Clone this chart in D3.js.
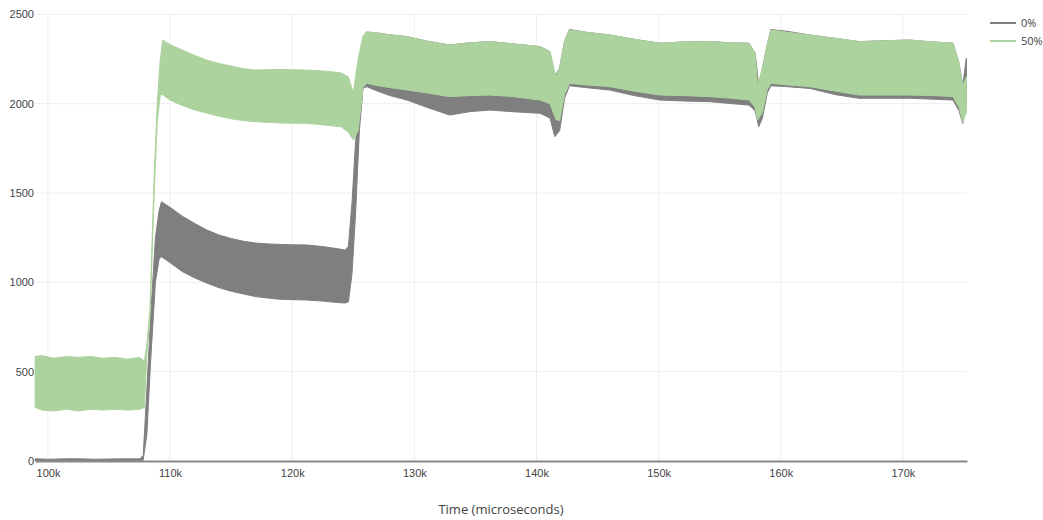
<!DOCTYPE html>
<html>
<head>
<meta charset="utf-8">
<script src="https://cdn.jsdelivr.net/npm/d3@7"></script>
<style>
  body { margin: 0; background: #fff; }
  svg { font-family: "Open Sans", sans-serif; }
  .tick text { fill: #444; font-size: 11px; }
</style>
</head>
<body>
<div id="chart"></div>
<script>
// time in thousands of microseconds, band = min/max of the oscillation
const seriesNames = ["0%", "50%"];
const seriesColors = ["#7f7f7f", "#acd39e"];
const xTicks = [100, 110, 120, 130, 140, 150, 160, 170];
const yTicks = [0, 500, 1000, 1500, 2000, 2500];

const grayTime = [98.95, 100, 102, 104, 106, 107.5, 107.8, 108.1, 108.4, 108.8, 109.1, 109.3, 110, 111, 112, 113, 114, 115, 116, 117, 118, 119, 120, 121.2, 122.5, 123.5, 124.3, 124.6, 124.9, 125.2, 125.5, 125.8, 126.1, 127, 128, 129.4, 131, 132.9, 134.5, 136.2, 138, 140.3, 141.1, 141.5, 141.9, 142.3, 142.7, 144, 146, 148, 150.1, 152, 154.2, 156, 157.4, 157.9, 158.2, 158.5, 158.9, 159.2, 160.5, 162.4, 164.5, 166.4, 168.5, 170.5, 172.5, 174.1, 174.6, 174.9, 175.2];
const grayLow = [2, 2, 2, 2, 2, 2, 5, 150, 550, 1000, 1130, 1143, 1110, 1060, 1025, 996, 970, 950, 935, 920, 912, 905, 903, 901, 895, 888, 884, 890, 1050, 1400, 1850, 2086, 2095, 2070, 2045, 2020, 1980, 1936, 1955, 1964, 1955, 1946, 1920, 1815, 1850, 2030, 2100, 2090, 2076, 2045, 2020, 2015, 2011, 2000, 1992, 1960, 1871, 1920, 2060, 2100, 2095, 2085, 2050, 2030, 2030, 2030, 2025, 2020, 1960, 1890, 2000];
const grayHigh = [12, 10, 13, 10, 12, 12, 30, 400, 800, 1250, 1400, 1451, 1420, 1370, 1330, 1293, 1265, 1245, 1230, 1220, 1215, 1212, 1210, 1209, 1200, 1190, 1181, 1200, 1450, 1800, 2000, 2200, 2400, 2395, 2385, 2375, 2350, 2328, 2340, 2347, 2335, 2319, 2291, 2150, 2200, 2350, 2415, 2400, 2384, 2360, 2338, 2345, 2347, 2340, 2338, 2283, 2100, 2200, 2330, 2415, 2405, 2384, 2365, 2347, 2352, 2356, 2345, 2338, 2225, 2100, 2255];

const greenTime = [98.95, 99.5, 100.5, 101.5, 102.5, 103.5, 104.5, 105.5, 106.5, 107.5, 107.9, 108.1, 108.35, 108.7, 108.95, 109.2, 109.4, 110, 111, 112, 113, 114, 115, 116, 117, 118, 119, 120, 121, 122, 123, 124, 124.6, 125, 125.4, 125.8, 126.1, 127, 128, 129.4, 131, 132.9, 134.5, 136.2, 138, 140.3, 141.1, 141.6, 141.9, 142.3, 142.7, 144, 146, 148, 150.1, 152, 154.2, 156, 157.4, 157.9, 158.1, 158.5, 158.9, 159.2, 160.5, 162.4, 164.5, 166.4, 168.5, 170.5, 172.5, 174.1, 174.6, 174.9, 175.2];
const greenLow = [300, 285, 280, 290, 280, 290, 285, 290, 285, 290, 300, 600, 800, 1500, 1900, 2050, 2050, 2020, 1990, 1965, 1947, 1930, 1915, 1905, 1899, 1895, 1892, 1890, 1890, 1885, 1878, 1870, 1840, 1796, 1850, 2090, 2114, 2100, 2090, 2076, 2060, 2039, 2045, 2048, 2040, 2020, 2000, 1910, 1905, 2050, 2114, 2105, 2095, 2070, 2048, 2045, 2039, 2030, 2020, 1980, 1908, 1950, 2080, 2114, 2105, 2095, 2070, 2048, 2048, 2048, 2045, 2039, 1980, 1899, 1950];
const greenHigh = [585, 590, 575, 585, 580, 585, 575, 580, 570, 580, 560, 650, 850, 1600, 2000, 2250, 2356, 2330, 2300, 2270, 2244, 2225, 2210, 2195, 2188, 2190, 2192, 2190, 2188, 2185, 2180, 2172, 2150, 2060, 2250, 2380, 2403, 2395, 2385, 2375, 2350, 2328, 2340, 2347, 2335, 2319, 2291, 2150, 2200, 2350, 2412, 2400, 2384, 2360, 2338, 2345, 2347, 2340, 2338, 2283, 2100, 2200, 2330, 2412, 2400, 2384, 2365, 2347, 2352, 2356, 2345, 2338, 2225, 2100, 2150];

const width = 1043, height = 520;
const margin = {top: 14.3, right: 76, bottom: 59, left: 35};

const svg = d3.select("#chart").append("svg")
  .attr("width", width)
  .attr("height", height);

const x = d3.scaleLinear()
  .domain([98.94, 175.25])
  .range([margin.left, width - margin.right]);

const y = d3.scaleLinear()
  .domain([0, 2500])
  .range([height - margin.bottom, margin.top]);

// grid
svg.append("g")
  .selectAll("line")
  .data(xTicks)
  .enter().append("line")
  .attr("x1", d => x(d)).attr("x2", d => x(d))
  .attr("y1", y(0)).attr("y2", y(2500))
  .attr("stroke", "#eee");

svg.append("g")
  .selectAll("line")
  .data(yTicks.slice(1))
  .enter().append("line")
  .attr("x1", x.range()[0]).attr("x2", x.range()[1])
  .attr("y1", d => y(d)).attr("y2", d => y(d))
  .attr("stroke", "#eee");

const toRows = (time, low, high) => time.map((t, i) => ({t, low: low[i], high: high[i]}));
const series = [
  toRows(grayTime, grayLow, grayHigh),
  toRows(greenTime, greenLow, greenHigh)
];

const area = d3.area()
  .x(d => x(d.t))
  .y0(d => y(d.low))
  .y1(d => y(d.high));

svg.append("g")
  .selectAll("path")
  .data(series)
  .enter().append("path")
  .attr("d", area)
  .attr("fill", (d, i) => seriesColors[i])
  .attr("stroke", (d, i) => seriesColors[i])
  .attr("stroke-width", 1);

// axes
const xAxis = svg.append("g")
  .attr("transform", `translate(0, ${y(0)})`)
  .call(d3.axisBottom(x).tickValues(xTicks).tickFormat(d => `${d}k`).tickSize(0).tickPadding(8));
xAxis.select(".domain").attr("stroke", "#888").attr("stroke-width", 2);

const yAxis = svg.append("g")
  .attr("transform", `translate(${margin.left}, 0)`)
  .call(d3.axisLeft(y).tickValues(yTicks).tickFormat(d3.format("d")).tickSize(0).tickPadding(1));
yAxis.select(".domain").remove();

svg.append("text")
  .attr("x", (x.range()[0] + x.range()[1]) / 2)
  .attr("y", 514)
  .attr("text-anchor", "middle")
  .attr("fill", "#444")
  .style("font-size", "13px")
  .text("Time (microseconds)");

// legend
const legend = svg.append("g")
  .attr("transform", "translate(990, 23)")
  .selectAll("g")
  .data(seriesNames)
  .enter().append("g")
  .attr("transform", (d, i) => `translate(0, ${i * 18})`);

legend.append("line")
  .attr("x1", 0).attr("x2", 26)
  .attr("stroke", (d, i) => seriesColors[i])
  .attr("stroke-width", 2);

legend.append("text")
  .attr("x", 31)
  .attr("dy", "0.35em")
  .attr("fill", "#444")
  .style("font-size", "11px")
  .text(d => d);
</script>
</body>
</html>
